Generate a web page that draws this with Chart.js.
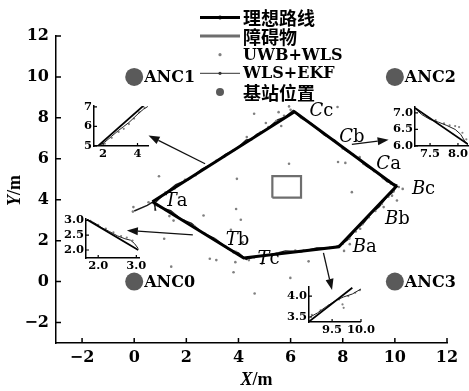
<!DOCTYPE html>
<html>
<head>
<meta charset="utf-8">
<script src="https://cdn.jsdelivr.net/npm/chart.js@4/dist/chart.umd.min.js"></script>
<style>
  html, body { margin: 0; padding: 0; background: #fff; overflow: hidden; }
  #wrap { position: relative; width: 469px; height: 391px; }
  #wrap canvas { position: absolute; }
</style>
</head>
<body>
<div id="wrap">
  <canvas id="main" width="469" height="391" style="left:0;top:0"></canvas>
  <canvas id="in1"></canvas>
  <canvas id="in2"></canvas>
  <canvas id="in3"></canvas>
  <canvas id="in4"></canvas>
</div>
<script>
// ---------- data (metres) ----------
const xTickValues = [-2, 0, 2, 4, 6, 8, 10, 12];
const yTickValues = [-2, 0, 2, 4, 6, 8, 10, 12];

const idealPath = [[0.7, 3.9], [6.15, 8.3], [10.05, 4.65], [7.85, 1.7], [4.2, 1.15], [0.7, 3.9]];
const obstacle = [[5.3, 4.1], [6.4, 4.1], [6.4, 5.15], [5.3, 5.15], [5.3, 4.1]];
const anchors = [[0, 0], [0, 10], [10, 10], [10, 0]];
const anchorNames = ['ANC0', 'ANC1', 'ANC2', 'ANC3'];

const uwbWls = [
  [4.6, 8.2], [5.94, 8.56], [7.8, 8.53], [5.64, 7.6], [5.05, 7.75], [5.94, 5.76], [3.94, 5.02],
  [0.95, 5.15], [7.82, 5.84], [8.1, 5.8], [8.65, 6.08], [8.35, 4.37], [10.3, 4.53], [3.91, 3.55],
  [2.66, 3.23], [4.09, 3.02], [-0.03, 3.64], [-0.05, 3.42], [1.51, 2.98], [3.71, 2.53], [1.15, 2.09],
  [4.16, 1.92], [2.9, 1.12], [3.15, 1.05], [3.88, 0.95], [1.42, 0.73], [3.81, 0.46], [5.99, 0.18],
  [4.62, -0.58], [6.69, 0.99], [4.9, 0.87], [8.05, 1.5], [8.27, 1.83], [10.08, 3.96], [5.54, 8.28],
  [6.43, 7.99], [4.32, 7.06], [9.76, 4.94], [9.89, 4.2], [8.67, 2.58], [9.57, 3.64], [6.18, 1.52],
  [3.81, 1.43], [0.55, 3.88],
  [1.2, 4.35], [1.55, 4.55], [1.95, 4.98], [2.35, 5.2], [2.75, 5.55], [3.15, 5.9], [3.45, 6.1],
  [3.8, 6.4], [4.15, 6.7], [4.5, 6.95], [4.85, 7.3], [5.15, 7.55], [5.45, 7.85], [5.75, 8.1], [6.0, 8.4],
  [6.5, 7.95], [6.9, 7.6], [7.3, 7.2], [7.65, 6.9], [8.0, 6.5], [8.4, 6.2], [8.8, 5.75], [9.2, 5.4],
  [9.55, 5.05], [9.85, 4.78], [10.15, 4.62],
  [9.95, 4.4], [9.75, 4.15], [9.5, 3.8], [9.25, 3.45], [9.0, 3.15], [8.75, 2.8], [8.5, 2.45],
  [8.25, 2.1], [8.0, 1.85],
  [7.5, 1.65], [7.0, 1.58], [6.5, 1.52], [6.0, 1.45], [5.5, 1.38], [5.0, 1.25], [4.6, 1.18], [4.4, 1.05],
  [3.9, 1.45], [3.5, 1.72], [3.1, 2.05], [2.7, 2.35], [2.3, 2.7], [1.9, 3.0], [1.5, 3.3], [1.2, 3.5],
  [0.9, 3.7], [1.35, 3.2]
];

const wlsEkf = [
  [0.0, 3.45], [0.5, 3.72], [0.75, 3.92], [0.82, 3.5], [0.8, 3.85], [1.1, 4.22], [1.6, 4.74],
  [2.1, 5.0], [2.6, 5.5], [3.1, 5.82], [3.5, 6.22], [3.9, 6.46], [4.3, 6.92], [4.5, 6.96],
  [4.7, 7.2], [5.1, 7.45], [5.5, 7.9], [5.8, 8.05], [6.1, 8.36], [6.4, 8.0], [6.8, 7.72],
  [7.3, 7.15], [7.7, 6.9], [8.1, 6.42], [8.5, 6.1], [8.9, 5.65], [9.3, 5.34], [9.7, 4.88],
  [10.07, 4.72], [9.95, 4.4], [9.7, 4.16], [9.4, 3.66], [9.1, 3.34], [8.8, 2.86], [8.5, 2.54],
  [8.2, 2.06], [7.95, 1.82], [7.6, 1.64], [7.0, 1.64], [6.4, 1.46], [5.8, 1.5], [5.2, 1.3],
  [4.7, 1.24], [4.3, 1.08], [4.0, 1.4], [3.6, 1.6], [3.1, 2.1], [2.6, 2.4], [2.2, 2.85],
  [1.8, 3.05], [1.4, 3.47], [1.0, 3.63], [0.75, 3.85]
];

// segment names along the route, anchored in data coordinates
const segmentNames = ['Ta', 'Tb', 'Tc', 'Ba', 'Bb', 'Bc', 'Ca', 'Cb', 'Cc'];
const segmentAt = [[1.61, 3.91], [3.96, 2.04], [5.15, 1.11], [8.84, 1.68], [10.1, 3.03],
                   [11.1, 4.53], [9.76, 5.71], [8.35, 7.06], [7.18, 8.32]];

// call-out arrows pointing to the magnified views (data coordinates)
const calloutFrom = [[2.72, 5.76], [8.35, 6.70], [2.25, 2.28], [7.26, 1.40]];
const calloutTo = [[0.55, 7.14], [9.76, 6.93], [-0.28, 2.5], [7.59, -0.41]];

// magnified views
const in1Ideal = [[1.65, 4.96], [4.4, 7.1]];
const in1Ekf = [[1.75, 5.0], [2.1, 5.2], [2.5, 5.5], [2.9, 5.8], [3.2, 6.0], [3.5, 6.2], [3.8, 6.45], [4.1, 6.7], [4.35, 6.88], [4.6, 7.02]];
const in1Uwb = [[2.1, 5.12], [2.5, 5.42], [2.9, 5.72], [3.2, 5.88], [3.5, 6.12], [3.8, 6.4], [4.1, 6.72], [4.4, 6.95]];

const in2Ideal = [[7.23, 7.15], [8.18, 6.05]];
const in2Ekf = [[7.24, 7.12], [7.35, 6.95], [7.5, 6.8], [7.65, 6.72], [7.8, 6.62], [7.95, 6.5], [8.05, 6.35], [8.12, 6.15], [8.18, 6.05]];
const in2Uwb = [[7.3, 7.05], [7.45, 6.88], [7.6, 6.78], [7.75, 6.68], [7.85, 6.62], [7.95, 6.6], [8.02, 6.57], [8.08, 6.4], [8.15, 6.2]];

const in3Ideal = [[1.7, 3.03], [3.05, 2.0]];
const in3Ekf = [[1.72, 3.02], [1.9, 2.92], [2.1, 2.75], [2.3, 2.62], [2.5, 2.48], [2.7, 2.38], [2.85, 2.33], [2.95, 2.22], [3.05, 2.05]];
const in3Uwb = [[1.8, 2.98], [2.0, 2.85], [2.2, 2.72], [2.4, 2.6], [2.6, 2.47], [2.75, 2.42], [2.9, 2.32]];

const in4Ideal = [[9.1, 3.39], [9.85, 4.2]];
const in4Ekf = [[9.12, 3.5], [9.25, 3.6], [9.4, 3.75], [9.57, 3.9], [9.7, 3.98], [9.85, 4.05], [10.0, 4.17]];
const in4Uwb = [[9.15, 3.55], [9.3, 3.66], [9.45, 3.78], [9.62, 3.92], [9.68, 3.8], [9.7, 3.72], [9.78, 4.0], [9.9, 4.08], [9.98, 4.14]];

// ---------- helpers ----------
const SERIF = '"DejaVu Serif", "Liberation Serif", serif';
const toXY = arr => arr.map(p => ({ x: p[0], y: p[1] }));
const minus = v => (v < 0 ? '\u2212' + Math.abs(v) : String(v));

function drawParts(ctx, parts, x, y, align) {
  let w = 0;
  parts.forEach(p => { ctx.font = p.font; w += ctx.measureText(p.text).width; });
  let cx = align === 'center' ? x - w / 2 : x;
  ctx.textAlign = 'left';
  parts.forEach(p => { ctx.font = p.font; ctx.fillText(p.text, cx, y); cx += ctx.measureText(p.text).width; });
}

const inwardTicks = {
  id: 'inwardTicks',
  afterDraw(chart, _a, opts) {
    const ctx = chart.ctx, a = chart.chartArea, xs = chart.scales.x, ys = chart.scales.y;
    ctx.save();
    ctx.strokeStyle = '#000';
    ctx.lineWidth = opts.width;
    ctx.beginPath();
    xs.ticks.forEach(t => { const p = xs.getPixelForValue(t.value); ctx.moveTo(p, a.bottom); ctx.lineTo(p, a.bottom - opts.len); });
    ys.ticks.forEach(t => { const p = ys.getPixelForValue(t.value); ctx.moveTo(a.left, p); ctx.lineTo(a.left + opts.len, p); });
    ctx.stroke();
    ctx.restore();
  }
};

// legend swatches, in dataset order
const legendSwatch = [
  { line: 3.2, color: '#000', dot: 2 },
  { line: 3, color: '#6e6e6e', dot: 0 },
  { line: 0, color: '#808080', dot: 1.6 },
  { line: 1, color: '#333', dot: 1.6 },
  { line: 0, color: '#5a5a5a', dot: 4 }
];

const annotate = {
  id: 'annotate',
  afterDatasetsDraw(chart) {
    const ctx = chart.ctx, xs = chart.scales.x, ys = chart.scales.y, a = chart.chartArea;
    const px = p => [xs.getPixelForValue(p[0]), ys.getPixelForValue(p[1])];
    ctx.save();
    ctx.fillStyle = '#000';
    ctx.textBaseline = 'middle';

    // anchor names
    anchors.forEach((p, i) => {
      const [x, y] = px(p);
      ctx.font = 'bold 16px ' + SERIF;
      ctx.textAlign = 'left';
      ctx.fillText(anchorNames[i], x + 10, y + 1);
    });

    // segment names (italic letter + upright suffix)
    segmentNames.forEach((s, i) => {
      const [x, y] = px(segmentAt[i]);
      drawParts(ctx, [
        { text: s[0], font: 'italic 18px ' + SERIF },
        { text: s.slice(1), font: '18px ' + SERIF }
      ], x, y, 'center');
    });

    // call-out arrows
    ctx.strokeStyle = '#111';
    ctx.fillStyle = '#111';
    ctx.lineWidth = 1.3;
    calloutFrom.forEach((f, i) => {
      const [x0, y0] = px(f), [x1, y1] = px(calloutTo[i]);
      const ang = Math.atan2(y1 - y0, x1 - x0), hl = 11, hw = 4;
      const bx = x1 - hl * Math.cos(ang), by = y1 - hl * Math.sin(ang);
      ctx.beginPath(); ctx.moveTo(x0, y0); ctx.lineTo(bx, by); ctx.stroke();
      ctx.beginPath();
      ctx.moveTo(x1, y1);
      ctx.lineTo(bx + hw * Math.sin(ang), by - hw * Math.cos(ang));
      ctx.lineTo(bx - hw * Math.sin(ang), by + hw * Math.cos(ang));
      ctx.closePath(); ctx.fill();
    });

    // axis titles
    ctx.fillStyle = '#000';
    drawParts(ctx, [
      { text: 'X', font: 'italic bold 18px "Liberation Serif", serif' },
      { text: '/m', font: 'bold 18px "Liberation Serif", serif' }
    ], (a.left + a.right) / 2 + 5, 380, 'center');
    ctx.save();
    ctx.translate(15, (a.top + a.bottom) / 2 + 1);
    ctx.rotate(-Math.PI / 2);
    drawParts(ctx, [
      { text: 'Y', font: 'italic bold 18px "Liberation Serif", serif' },
      { text: '/m', font: 'bold 18px "Liberation Serif", serif' }
    ], 0, 0, 'center');
    ctx.restore();

    // legend
    const L = { x0: 200, x1: 240, tx: 243, y0: 17.5, dy: 18.6 };
    chart.data.datasets.forEach((ds, i) => {
      const sw = legendSwatch[i], y = L.y0 + i * L.dy, mx = (L.x0 + L.x1) / 2;
      if (sw.line) {
        ctx.strokeStyle = sw.color; ctx.lineWidth = sw.line;
        ctx.beginPath(); ctx.moveTo(L.x0, y); ctx.lineTo(L.x1, y); ctx.stroke();
      }
      if (sw.dot) {
        ctx.fillStyle = sw.color;
        ctx.beginPath(); ctx.arc(mx, y, sw.dot, 0, Math.PI * 2); ctx.fill();
      }
      ctx.fillStyle = '#000';
      ctx.textAlign = 'left';
      ctx.font = /[\u4e00-\u9fff]/.test(ds.label)
        ? 'bold 18px "Noto Sans CJK SC", sans-serif'
        : 'bold 16px ' + SERIF;
      ctx.fillText(ds.label, L.tx, y + 1);
    });
    ctx.restore();
  }
};

// ---------- main chart ----------
new Chart(document.getElementById('main'), {
  type: 'scatter',
  data: {
    datasets: [
      { label: '理想路线', data: toXY(idealPath), showLine: true, borderColor: '#000', borderWidth: 3, pointRadius: 0, tension: 0 },
      { label: '障碍物', data: toXY(obstacle), showLine: true, borderColor: '#6e6e6e', borderWidth: 2.2, pointRadius: 0 },
      { label: 'UWB+WLS', data: toXY(uwbWls), showLine: false, pointRadius: 1.3, backgroundColor: '#808080', borderWidth: 0 },
      { label: 'WLS+EKF', data: toXY(wlsEkf), showLine: true, borderColor: '#1a1a1a', borderWidth: 1.4, pointRadius: 0 },
      { label: '基站位置', data: toXY(anchors), showLine: false, pointRadius: 9, backgroundColor: '#5a5a5a', borderWidth: 0 }
    ]
  },
  options: {
    responsive: false,
    animation: false,
    events: [],
    layout: { padding: { top: 36, right: 22, left: 0, bottom: 0 } },
    plugins: { legend: { display: false }, tooltip: { enabled: false }, inwardTicks: { len: 5, width: 1.5 } },
    scales: {
      x: {
        type: 'linear', min: -3, max: 12,
        afterBuildTicks: s => { s.ticks = xTickValues.map(v => ({ value: v })); },
        afterFit: s => { s.height = 48; },
        grid: { display: false, drawTicks: false },
        border: { display: true, color: '#000', width: 1.5 },
        ticks: { padding: 5, color: '#000', font: { family: SERIF, weight: 'bold', size: 16 }, callback: v => minus(v), maxRotation: 0 }
      },
      y: {
        type: 'linear', min: -3, max: 12,
        afterBuildTicks: s => { s.ticks = yTickValues.map(v => ({ value: v })); },
        afterFit: s => { s.width = 56; },
        grid: { display: false, drawTicks: false },
        border: { display: true, color: '#000', width: 1.5 },
        ticks: { padding: 7, color: '#000', font: { family: SERIF, weight: 'bold', size: 16 }, callback: v => minus(v) }
      }
    }
  },
  plugins: [annotate, inwardTicks]
});

// ---------- magnified views ----------
const insetFrame = { padL: 30, padB: 16, padT: 8, padR: 14 };
const insetBoxes = {
  in1: { left: 94, top: 105, right: 148, bottom: 146 },
  in2: { left: 415, top: 106, right: 468, bottom: 146 },
  in3: { left: 86, top: 218, right: 139, bottom: 258 },
  in4: { left: 309, top: 286, right: 362, bottom: 322 }
};

function makeInset(id, xr, yr, xt, yt, decimals, ideal, ekf, uwb) {
  const b = insetBoxes[id], f = insetFrame;
  const cv = document.getElementById(id);
  cv.width = f.padL + (b.right - b.left) + f.padR;
  cv.height = f.padT + (b.bottom - b.top) + f.padB;
  cv.style.left = (b.left - f.padL) + 'px';
  cv.style.top = (b.top - f.padT) + 'px';
  const fmt = v => Number(v).toFixed(decimals);
  const tickFont = { family: SERIF, weight: 'bold', size: 11.5 };
  new Chart(cv, {
    type: 'scatter',
    data: {
      datasets: [
        { data: toXY(ideal), showLine: true, borderColor: '#000', borderWidth: 1.8, pointRadius: 0 },
        { data: toXY(ekf), showLine: true, borderColor: '#222', borderWidth: 1, pointRadius: 0 },
        { data: toXY(uwb), showLine: false, pointRadius: 1.1, backgroundColor: '#808080', borderWidth: 0 }
      ]
    },
    options: {
      responsive: false,
      animation: false,
      events: [],
      layout: { padding: { top: f.padT, right: f.padR, left: 0, bottom: 0 } },
      plugins: { legend: { display: false }, tooltip: { enabled: false }, inwardTicks: { len: 3, width: 1.2 } },
      scales: {
        x: {
          type: 'linear', min: xr[0], max: xr[1],
          afterBuildTicks: s => { s.ticks = xt.map(v => ({ value: v })); },
          afterFit: s => { s.height = f.padB; },
          grid: { display: false, drawTicks: false },
          border: { display: true, color: '#000', width: 1.5 },
          ticks: { padding: 1, color: '#000', font: tickFont, callback: fmt, maxRotation: 0, autoSkip: false }
        },
        y: {
          type: 'linear', min: yr[0], max: yr[1],
          afterBuildTicks: s => { s.ticks = yt.map(v => ({ value: v })); },
          afterFit: s => { s.width = f.padL; },
          grid: { display: false, drawTicks: false },
          border: { display: true, color: '#000', width: 1.5 },
          ticks: { padding: 2, color: '#000', font: tickFont, callback: fmt, autoSkip: false }
        }
      }
    },
    plugins: [inwardTicks]
  });
}

makeInset('in1', [1.47, 4.61], [5, 7.05], [2, 4], [5, 6, 7], 0, in1Ideal, in1Ekf, in1Uwb);
makeInset('in2', [7.23, 8.18], [6.0, 7.18], [7.5, 8.0], [6.0, 6.5, 7.0], 1, in2Ideal, in2Ekf, in2Uwb);
makeInset('in3', [1.68, 3.07], [1.73, 3.05], [2.0, 3.0], [2.0, 2.5, 3.0], 1, in3Ideal, in3Ekf, in3Uwb);
makeInset('in4', [9.1, 10.0], [3.38, 4.22], [9.5, 10.0], [3.5, 4.0], 1, in4Ideal, in4Ekf, in4Uwb);
</script>
</body>
</html>
